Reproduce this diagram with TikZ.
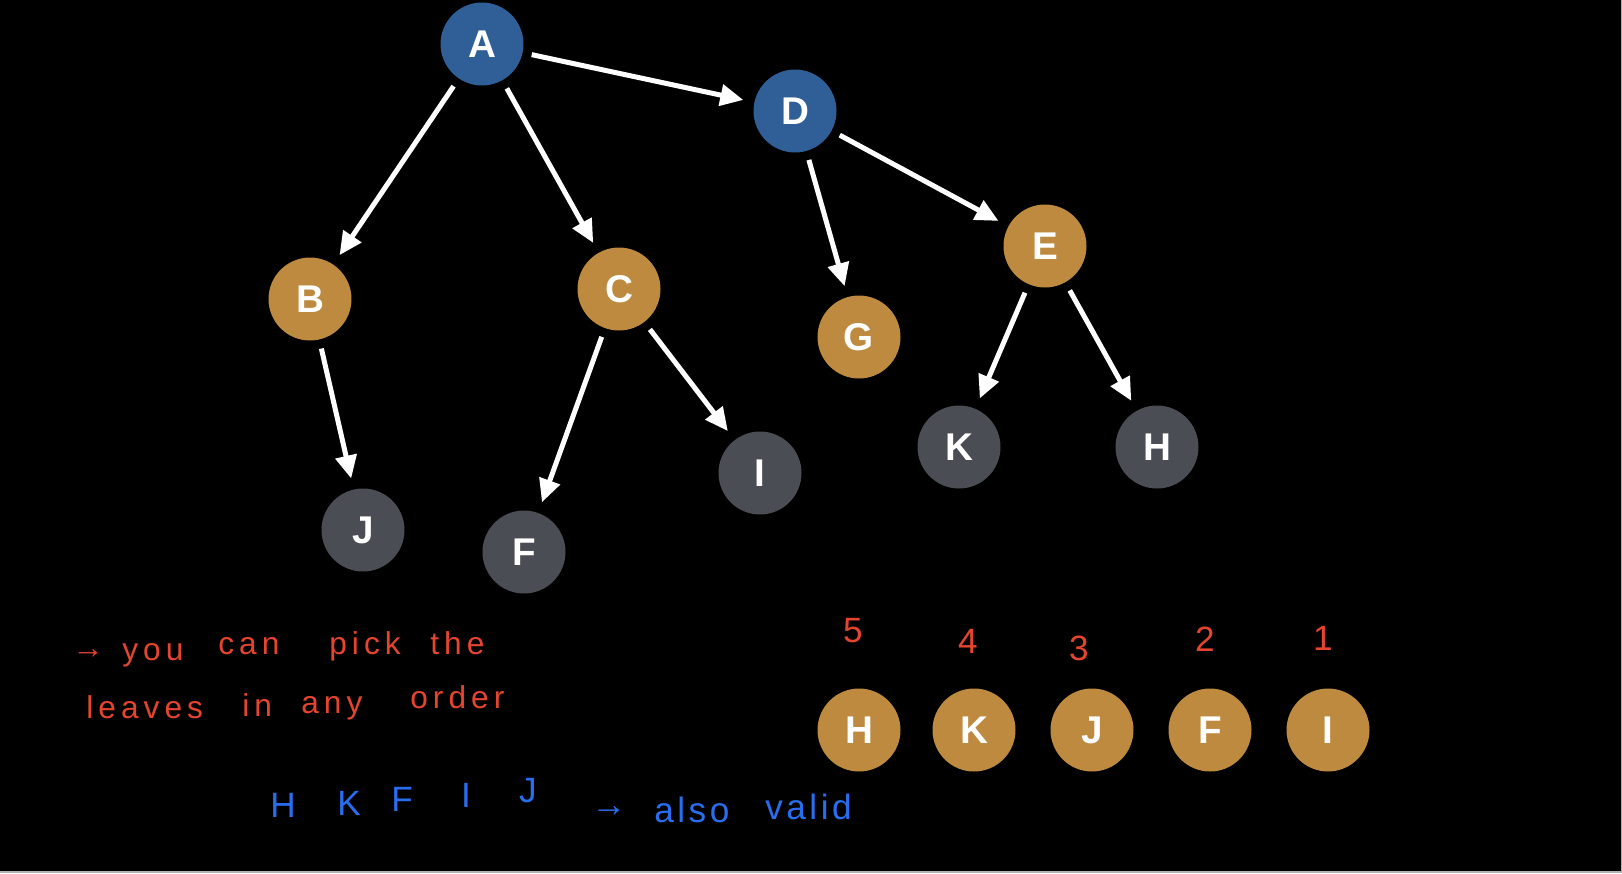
\documentclass[tikz,border=0pt]{standalone}
\usepackage{fontspec}
\setmainfont{Liberation Sans}
\usetikzlibrary{arrows.meta}
\definecolor{treeblue}{HTML}{2F5F96}
\definecolor{treegold}{HTML}{BE8A40}
\definecolor{treegrey}{HTML}{4A4D54}
\definecolor{inkred}{HTML}{E5452F}
\definecolor{inkblue}{HTML}{2A6EF0}

\begin{document}
\begin{tikzpicture}[x=0.02cm, y=-0.02cm,
    vertex/.style={circle, minimum size=1.66cm, inner sep=0pt, text=white,
        font=\fontsize{22}{22}\selectfont\bfseries},
    inner/.style={vertex, fill=treeblue},
    mid/.style={vertex, fill=treegold},
    leaf/.style={vertex, fill=treegrey},
    edge/.style={white, line width=0.1cm, -{Triangle[length=0.46cm,width=0.42cm]},
        shorten <=0.18cm, shorten >=0.22cm},
    redink/.style={text=inkred, inner sep=0pt, anchor=base west,
        font=\fontsize{18}{18}\selectfont\addfontfeature{LetterSpace=16}},
    blueink/.style={text=inkblue, inner sep=0pt,
        font=\fontsize{20}{20}\selectfont\addfontfeature{LetterSpace=10}}]
    % the board
    \fill[gray!60] (0,0) rectangle (1622,873);
    \fill[black] (0,0) rectangle (1621,871);

    % the tree
    \node[inner] (A) at (482,44) {A};
    \node[inner] (D) at (795,111) {D};
    \node[mid] (B) at (310,299) {B};
    \node[mid] (C) at (619,289) {C};
    \node[mid] (G) at (859,337) {G};
    \node[mid] (E) at (1045,246) {E};
    \node[leaf] (J) at (363,530) {J};
    \node[leaf] (F) at (524,552) {F};
    \node[leaf] (I) at (760,473) {I};
    \node[leaf] (K) at (959,447) {K};
    \node[leaf] (H) at (1157,447) {H};

    % the arrows
    \draw[edge] (A) -- (B);
    \draw[edge] (A) -- (C);
    \draw[edge] (A) -- (D);
    \draw[edge] (D) -- (G);
    \draw[edge] (D) -- (E);
    \draw[edge] (B) -- (J);
    \draw[edge] (C) -- (F);
    \draw[edge] (C) -- (I);
    \draw[edge] (E) -- (K);
    \draw[edge] (E) -- (H);

    % the order of the leaves
    \node[mid] (oH) at (859,730) {H};
    \node[mid] (oK) at (974,730) {K};
    \node[mid] (oJ) at (1092,730) {J};
    \node[mid] (oF) at (1210,730) {F};
    \node[mid] (oI) at (1328,730) {I};
    \node[text=inkred, font=\fontsize{20}{20}\selectfont] (n5) at (853,631) {5};
    \node[text=inkred, font=\fontsize{20}{20}\selectfont] (n4) at (968,641) {4};
    \node[text=inkred, font=\fontsize{20}{20}\selectfont] (n3) at (1079,648) {3};
    \node[text=inkred, font=\fontsize{20}{20}\selectfont] (n2) at (1205,639) {2};
    \node[text=inkred, font=\fontsize{20}{20}\selectfont] (n1) at (1323,638) {1};

    % the notes
    \node[redink] (w1) at (72,658) {→};
    \node[redink] (w2) at (122,660) {you};
    \node[redink] (w3) at (218,654) {can};
    \node[redink] (w4) at (329,654) {pick};
    \node[redink] (w5) at (430,654) {the};
    \node[redink] (w6) at (86,718) {leaves};
    \node[redink] (w7) at (242,716) {in};
    \node[redink] (w8) at (301,713) {any};
    \node[redink] (w9) at (410,708) {order};
    %
    \node[blueink] (vH) at (283,805) {H};
    \node[blueink] (vK) at (349,803) {K};
    \node[blueink] (vF) at (402,799) {F};
    \node[blueink] (vI) at (466,795) {I};
    \node[blueink] (vJ) at (528,791) {J};
    \node[blueink, anchor=west] (v1) at (591,812) {→};
    \node[blueink, anchor=west] (v2) at (654,810) {also};
    \node[blueink, anchor=west] (v3) at (765,807) {valid};
\end{tikzpicture}
\end{document}
